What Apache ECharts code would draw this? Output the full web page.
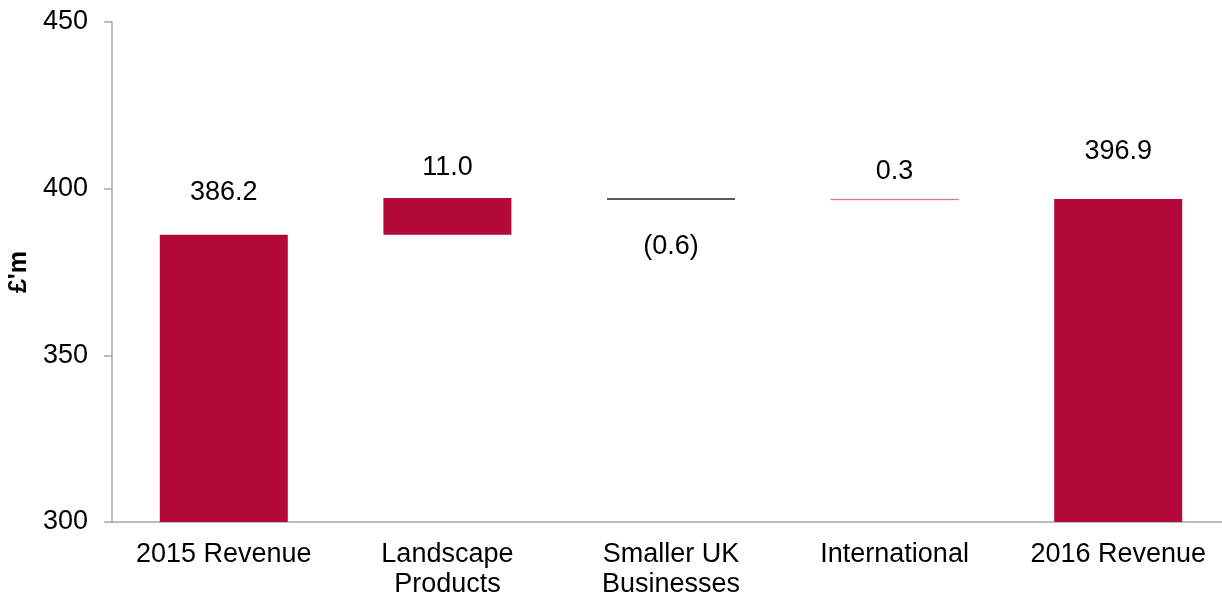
<!DOCTYPE html>
<html>
<head>
<meta charset="utf-8">
<script src="https://cdn.jsdelivr.net/npm/echarts@6/dist/echarts.min.js"></script>
<style>
  html, body { margin: 0; padding: 0; background: #ffffff; overflow: hidden; }
  #chart { width: 1230px; height: 597px; }
</style>
</head>
<body>
<div id="chart"></div>
<script>
// Revenue bridge, £'m
const categories = ['2015 Revenue', 'Landscape\nProducts', 'Smaller UK\nBusinesses', 'International', '2016 Revenue'];
// totals for the end columns, changes for the middle ones
const values = [386.2, 11.0, -0.6, 0.3, 396.9];
const isTotal = [true, false, false, false, true];
const yTicks = [300, 350, 400, 450];

const RED = '#b3093a';
const FONT = "'Liberation Sans', Arial, sans-serif";
const FS = 27;

// floating base + visible segment for each column
const base = [];
const seg = [];
let running = 0;
values.forEach((v, i) => {
  if (isTotal[i]) {
    base.push(0);
    seg.push(v);
    running = v;
  } else {
    const lo = v >= 0 ? running : running + v;
    base.push(+lo.toFixed(1));
    seg.push(Math.abs(v));
    running = +(running + v).toFixed(1);
  }
});

// per-column label placement
const labelDist = [29, 17, 33, 14, 34];
const segColors = [RED, RED, '#595959', '#d2577a', RED];
const segBorder = [0, 0, 0, 0.5, 0];

const fmt = v => v < 0 ? '(' + Math.abs(v).toFixed(1) + ')' : v.toFixed(1);

const segData = seg.map((s, i) => ({
  value: s,
  itemStyle: { color: segColors[i], borderColor: segColors[i], borderWidth: segBorder[i] },
  label: {
    show: true,
    position: values[i] < 0 ? 'bottom' : 'top',
    distance: labelDist[i],
    formatter: fmt(values[i])
  }
}));

const chart = echarts.init(document.getElementById('chart'), null, { renderer: 'canvas' });
chart.setOption({
  animation: false,
  backgroundColor: '#ffffff',
  textStyle: { fontFamily: FONT },
  grid: { left: 112, top: 22, width: 1118, height: 500, containLabel: false, outerBoundsMode: 'none' },
  xAxis: {
    type: 'category',
    data: categories,
    axisLine: { show: true, lineStyle: { color: '#a6a6a6', width: 1.5 } },
    axisTick: { show: false },
    axisLabel: { color: '#000', fontSize: FS, lineHeight: 30, margin: 18, interval: 0, fontFamily: FONT }
  },
  yAxis: {
    type: 'value',
    min: yTicks[0],
    max: yTicks[yTicks.length - 1],
    interval: 50,
    name: "£'m",
    nameLocation: 'middle',
    nameRotate: 90,
    nameGap: 77,
    nameTextStyle: { color: '#000', fontSize: 25, fontWeight: 'bold', fontFamily: FONT },
    axisLine: { show: true, lineStyle: { color: '#a6a6a6', width: 1.5 } },
    axisTick: { show: true, length: 8, lineStyle: { color: '#a6a6a6', width: 1.5 } },
    axisLabel: { color: '#000', fontSize: FS, margin: 24, fontFamily: FONT },
    splitLine: { show: false }
  },
  series: [
    {
      type: 'bar',
      stack: 'bridge',
      data: base,
      barWidth: 128,
      itemStyle: { color: 'transparent' },
      emphasis: { disabled: true },
      silent: true
    },
    {
      type: 'bar',
      stack: 'bridge',
      data: segData,
      barWidth: 128,
      label: { color: '#000', fontSize: FS, fontFamily: FONT },
      emphasis: { disabled: true }
    }
  ]
});
</script>
</body>
</html>
